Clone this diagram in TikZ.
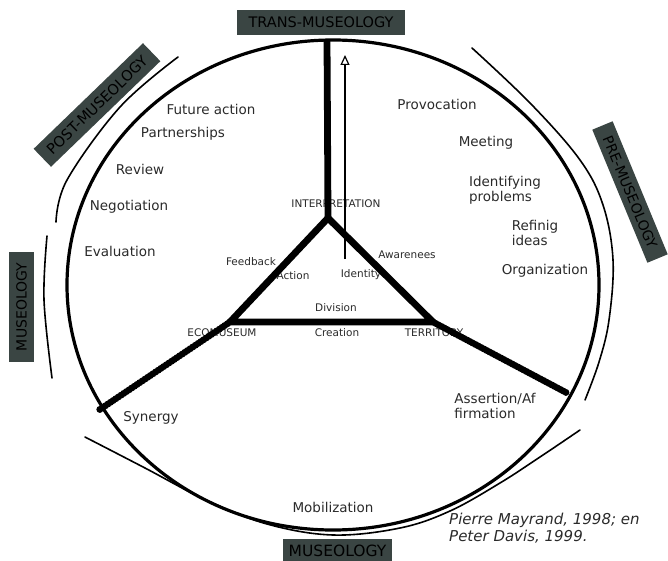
\documentclass[tikz,border=0pt]{standalone}
\usepackage{fontspec}
\usepackage{xcolor}
\usepackage{tikz}
\usetikzlibrary{arrows.meta}
\newfontfamily\verd{DejaVu Sans}
\definecolor{slate}{HTML}{3A4543}
\definecolor{ink}{HTML}{2A2A2A}

\tikzset{
  lbl/.style={font=\verd\fontsize{13.5}{15}\selectfont, text=ink, inner sep=0pt, align=left},
  tag/.style={font=\verd\fontsize{10.5}{12}\selectfont, text=ink, inner sep=0pt},
  band/.style={fill=slate, text=black, font=\verd\fontsize{14}{16}\selectfont, inner sep=0pt},
  rim/.style={line width=1.6pt, line cap=round},
  bar/.style={line width=6.8pt},
  beaded/.style={line width=7pt, line cap=round, dash pattern=on 0pt off 3.2pt,
    preaction={draw, solid, line width=4.8pt, line cap=butt}},
}

\begin{document}
\begin{tikzpicture}[x=1pt, y=-1pt]
    \useasboundingbox (0,0) rectangle (668,561);

    % Sommets du triangle et extremites
    \coordinate (top) at (327,40);
    \coordinate (I) at (328,218);
    \coordinate (E) at (230,322);
    \coordinate (R) at (433,322);
    \coordinate (dotL) at (99,410);
    \coordinate (dotR) at (567,393);
    \coordinate (arrB) at (345,259);
    \coordinate (arrT) at (345,55);

    % Bandeaux
    \node[band, minimum width=168pt, minimum height=25pt, font=\verd\fontsize{14.5}{16}\selectfont] (trans) at (321,22.5) {TRANS-MUSEOLOGY};
    \node[band, minimum width=152pt, minimum height=25pt, rotate=44, font=\verd\fontsize{14.5}{16}\selectfont] (post) at (97,105) {POST-MUSEOLOGY};
    \node[band, minimum width=144pt, minimum height=22pt, rotate=-67.5] (pre) at (630,192) {PRE-MUSEOLOGY};
    \node[band, minimum width=110pt, minimum height=25pt, rotate=90] (museoL) at (21.5,307) {MUSEOLOGY};
    \node[band, minimum width=109pt, minimum height=24pt, font=\verd\fontsize{15.5}{17}\selectfont] (museoB) at (337.5,551) {MUSEOLOGY};

    % Arcs exterieurs
    \draw[rim] plot[smooth, tension=0.6] coordinates {(472,48) (531,104) (580,160) (603,205) (613,260) (609,320) (599,362) (585,400)};
    \draw[rim] plot[smooth, tension=0.6] coordinates {(178,57) (120,107) (67,180) (56,222)};
    \draw[rim] plot[smooth, tension=0.6] coordinates {(47,236) (44,300) (52,378)};
    \draw[rim] plot[smooth, tension=0.6] coordinates {(85,437) (145,468) (206,500) (267,524) (333,535) (400,528) (450,511) (500,483) (540,457) (580,430)};

    % Cercle
    \draw[line width=3.2pt] (333,285) ellipse [x radius=266pt, y radius=245pt];

    % Etapes, cote gauche
    \node[lbl] (fut) at (211,109) {Future action};
    \node[lbl] (part) at (183,134) {Partnerships};
    \node[lbl] (rev) at (140,169) {Review};
    \node[lbl] (neg) at (129,207) {Negotiation};
    \node[lbl] (eval) at (120,251) {Evaluation};
    \node[lbl] (syn) at (151,418) {Synergy};

    % Etapes, cote droit
    \node[lbl] (prov) at (437,104) {Provocation};
    \node[lbl] (meet) at (486,143) {Meeting};
    \node[lbl] (ident) at (505,190) {Identifying\\problems};
    \node[lbl] (refi) at (535,233) {Refinig\\ideas};
    \node[lbl] (orga) at (545,271) {Organization};
    \node[lbl] (asse) at (495,406) {Assertion/Af\\firmation};
    \node[lbl] (mobi) at (333,507) {Mobilization};

    % Triangle central
    \node[tag] (interp) at (336,204) {INTERPRETATION};
    \node[tag] (feed) at (251,262) {Feedback};
    \node[tag] (act) at (293,276) {Action};
    \node[tag] (iden) at (361,275) {Identity};
    \node[tag] (awa) at (407,255) {Awarenees};
    \node[tag] (divi) at (336,308) {Division};
    \node[tag] (eco) at (222,333) {ECOMUSEUM};
    \node[tag] (crea) at (337,333) {Creation};
    \node[tag] (terr) at (434,333) {TERRITORY};

    % Source
    \node[lbl, font=\verd\itshape\fontsize{15}{17}\selectfont, anchor=west] (src) at (449,528) {Pierre Mayrand, 1998; en\\Peter Davis, 1999.};

    % Traits epais
    \draw[bar] (top) -- (I);
    \draw[bar, line join=miter] (I) -- (R) -- (E) -- cycle;
    \draw[beaded] (E) -- (dotL);
    \draw[beaded] (R) -- (dotR);

    % Fleche
    \draw[line width=1.2pt, -{Triangle[open, length=10pt, width=9pt]}] (arrB) -- (arrT);
\end{tikzpicture}
\end{document}
